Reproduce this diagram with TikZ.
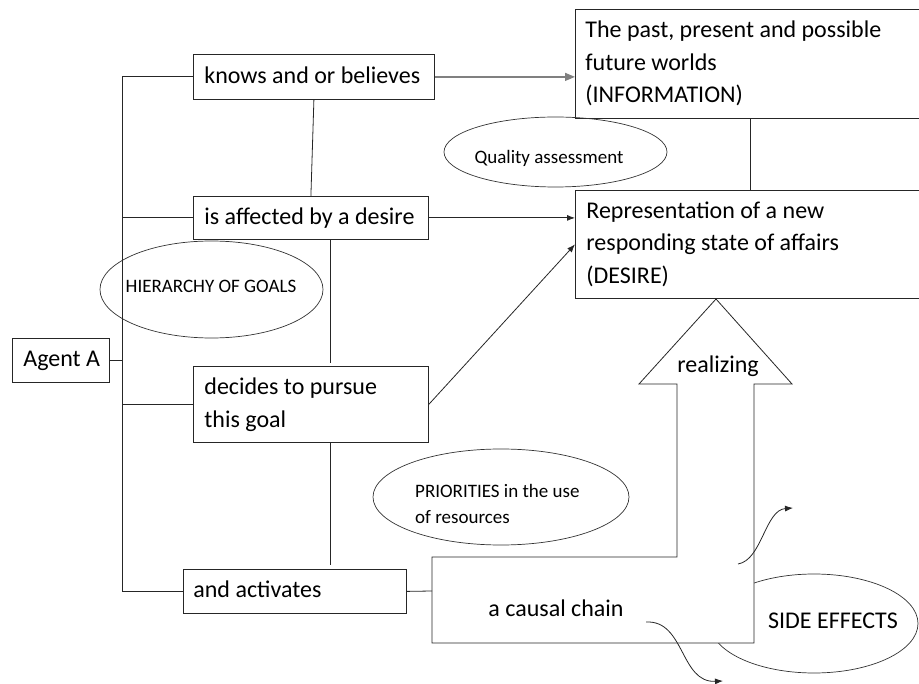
\documentclass[tikz,border=0pt]{standalone}
\usepackage{fontspec}
\setmainfont{Carlito}
\usetikzlibrary{arrows.meta,shapes.geometric}

% text sizes
\newcommand\bigtext{\fontsize{24}{32.5}\selectfont}
\newcommand\smalltext{\fontsize{19}{26}\selectfont}
% left-aligned lines set in a block of fixed width
\newcommand\boxlines[2]{\makebox[#1][l]{\begin{tabular}{@{}l@{}}#2\end{tabular}}}

\begin{document}
\begin{tikzpicture}[x=1pt,y=-1pt,
  frame/.style={draw=black!85, line width=0.8pt, inner sep=0pt, anchor=north west, font=\bigtext},
  oval/.style={ellipse, draw=black!80, line width=0.7pt, inner sep=0pt},
  label big/.style={font=\bigtext, inner sep=0pt, anchor=base},
  label small/.style={font=\smalltext, inner sep=0pt, anchor=base},
  link/.style={draw=black!85, line width=0.8pt},
  tip/.style={link, -{Latex[length=8pt,width=6pt]}},
  grey tip/.style={draw=black!50, line width=1.3pt, -{Triangle[length=10pt,width=8pt]}},
  ]
\useasboundingbox (0,0) rectangle (919,684);
\clip (0,0) rectangle (919,684);

% boxes of the agent's chain
\node[frame, minimum width=241pt, minimum height=45pt] (knows) at (193,54) {\boxlines{219pt}{knows and or believes}};
\node[frame, minimum width=235pt, minimum height=43pt] (affected) at (193,196) {\boxlines{213pt}{is affected by a desire}};
\node[frame, minimum width=235pt, minimum height=76pt] (decides) at (193,366) {\boxlines{213pt}{decides to pursue\\this goal}};
\node[frame, minimum width=223pt, minimum height=44pt] (activates) at (183,569) {\boxlines{203pt}{and activates}};
\node[frame, minimum width=97pt, minimum height=44pt] (agent) at (12,338) {\boxlines{75pt}{Agent A}};

% information and desire boxes
\node[frame, minimum width=350pt, minimum height=109pt] (info) at (575,9) {\boxlines{330pt}{The past, present and possible\\future worlds\\(INFORMATION)}};
\node[frame, minimum width=350pt, minimum height=108pt] (desire) at (575,190) {\boxlines{328pt}{Representation of a new\\responding state of affairs\\(DESIRE)}};

% ovals
\node[oval, minimum width=223pt, minimum height=70pt] (quality) at (555.5,152) {};
\node[label small] (qualitytext) at (549,164) {Quality assessment};
\node[oval, minimum width=223pt, minimum height=97pt] (hier) at (211.5,289.5) {};
\node[label small] (hiertext) at (211,292.7) {HIERARCHY OF GOALS};
\node[oval, minimum width=256pt, minimum height=96pt] (prio) at (501,497) {};
\node[font=\smalltext, inner sep=0pt, anchor=west] (priotext) at (415,505.1) {\begin{tabular}{@{}l@{}}PRIORITIES in the use\\of resources\end{tabular}};
\node[oval, minimum width=208pt, minimum height=99pt] (side) at (814,623.5) {};
\node[label big] (sidetext) at (833,628.3) {SIDE EFFECTS};

% causal chain with the realizing arrow
\coordinate (chainL) at (432,591);
\coordinate (arrowtip) at (716,299);
\draw[link, fill=white] (432,557) -- (677,557) -- (677,384) -- (639,384) -- (arrowtip)
  -- (792,384) -- (754,384) -- (754,643) -- (432,643) -- cycle;
\node[label big] (realizing) at (718,372.7) {realizing};
\node[label big] (chain) at (556,616.7) {a causal chain};

% bus from the agent
\coordinate (bus) at (122.7,0);
\draw[link] (knows.west) -| (bus |- activates.west) -- (activates.west);
\draw[link] (affected.west) -- (affected.west -| bus);
\draw[link] (decides.west) -- (decides.west -| bus);
\draw[link] (agent.east) -- (agent.east -| bus);

% vertical links between the steps
\coordinate (spine) at (330,0);
\draw[link] (knows.south) -- (affected.north);
\draw[link, shorten >=3pt] (affected.south -| spine) -- (decides.north -| spine);
\draw[link, shorten >=4pt] (decides.south -| spine) -- (activates.north -| spine);
\coordinate (riser) at (750,0);
\draw[link] (info.south -| riser) -- (desire.north -| riser);
\draw[link] (activates.east) -- (chainL);

% arrows to information and desire
\draw[grey tip] (knows.east) -- (knows.east -| info.west);
\draw[tip] (affected.east) -- (affected.east -| desire.west);
\draw[tip] (decides.east) -- (desire.west);

% side-effect arrows
\coordinate (upstart) at (738,564);
\coordinate (upend) at (793,508);
\coordinate (downstart) at (646,622);
\coordinate (downend) at (723,681);
\draw[tip] (upstart) .. controls (762,560) and (765,510) .. (upend);
\draw[tip] (downstart) .. controls (685,620) and (680,683) .. (downend);
\end{tikzpicture}
\end{document}
